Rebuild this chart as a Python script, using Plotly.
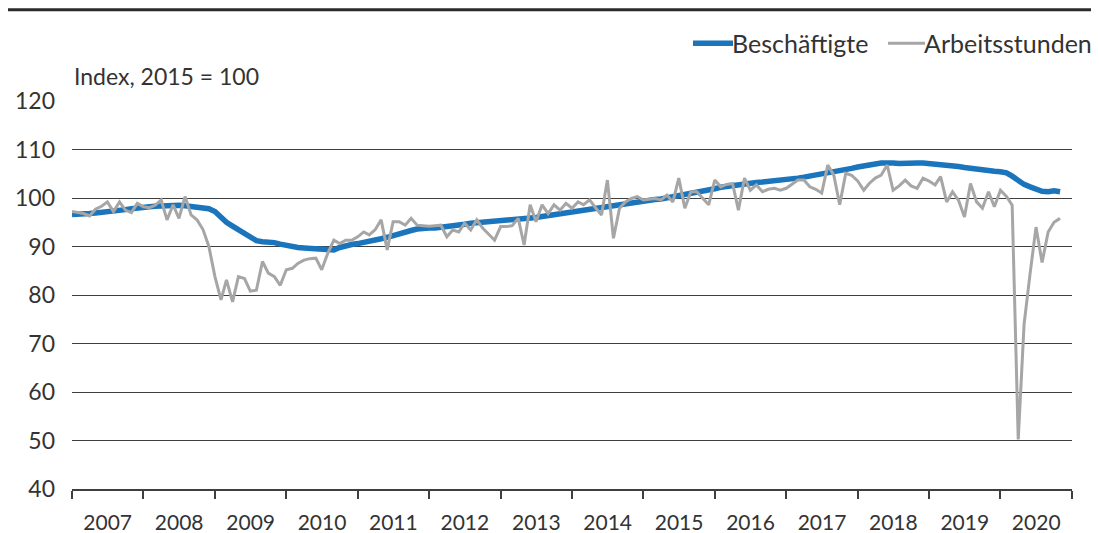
import pandas as pd
import plotly.graph_objects as go

# monthly values, Jan 2007 - Nov 2020 (Index, 2015 = 100)
months = pd.date_range("2007-01-01", "2020-11-01", freq="MS")

beschaeftigte = [
    96.6, 96.6, 96.7, 96.8, 96.9, 97.0, 97.1, 97.2, 97.4, 97.6, 97.8, 98.0,   # 2007
    98.1, 98.2, 98.3, 98.4, 98.4, 98.5, 98.5, 98.4, 98.3, 98.1, 97.9, 97.8,   # 2008
    97.2, 96.0, 95.0, 94.2, 93.5, 92.8, 92.0, 91.2, 91.0, 91.0, 90.8, 90.5,   # 2009
    90.2, 90.0, 89.8, 89.7, 89.6, 89.4, 89.3, 89.2, 89.3, 89.8, 90.2, 90.4,   # 2010
    90.6, 90.8, 91.0, 91.3, 91.6, 91.9, 92.3, 92.7, 93.0, 93.3, 93.6, 93.8,   # 2011
    93.8, 93.8, 93.9, 94.0, 94.2, 94.4, 94.6, 94.8, 94.9, 95.0, 95.1, 95.2,   # 2012
    95.2, 95.3, 95.4, 95.5, 95.7, 95.9, 96.0, 96.2, 96.4, 96.6, 96.8, 97.0,   # 2013
    97.1, 97.3, 97.5, 97.7, 97.9, 98.1, 98.3, 98.5, 98.7, 98.9, 99.1, 99.2,   # 2014
    99.3, 99.5, 99.7, 99.8, 100.0, 100.2, 100.4, 100.6, 100.8, 101.0, 101.3, 101.6,  # 2015
    101.9, 102.2, 102.4, 102.6, 102.8, 103.0, 103.1, 103.2, 103.3, 103.4, 103.5, 103.6,  # 2016
    103.7, 103.9, 104.1, 104.3, 104.5, 104.7, 104.9, 105.1, 105.3, 105.5, 105.8, 106.1,  # 2017
    106.4, 106.7, 106.9, 107.0, 107.2, 107.3, 107.2, 107.1, 107.2, 107.3, 107.2, 107.2,  # 2018
    107.1, 107.0, 107.0, 106.9, 106.7, 106.5, 106.3, 106.1, 105.9, 105.7, 105.6, 105.5,  # 2019
    105.4, 105.2, 104.5, 103.5, 102.8, 102.3, 101.8, 101.4, 101.3, 101.5, 101.3,         # 2020
]

arbeitsstunden = [
    97.2, 97.0, 96.8, 96.3, 97.7, 98.3, 99.2, 97.2, 99.2, 97.5, 97.0, 98.9,   # 2007
    98.2, 98.0, 98.5, 99.6, 95.5, 98.6, 95.8, 100.3, 96.5, 95.5, 93.5, 90.0,  # 2008
    83.8, 79.0, 83.1, 78.6, 83.8, 83.4, 80.8, 81.0, 86.9, 84.5, 83.8, 82.0,   # 2009
    85.2, 85.5, 86.5, 87.2, 87.5, 87.6, 85.2, 88.6, 91.3, 90.6, 91.3, 91.3,   # 2010
    92.0, 93.0, 92.4, 93.5, 95.5, 89.3, 95.1, 95.1, 94.4, 95.8, 94.4, 94.3,   # 2011
    94.2, 94.3, 94.4, 92.0, 93.4, 93.0, 94.8, 93.4, 95.5, 93.8, 92.5, 91.3,   # 2012
    94.1, 94.1, 94.3, 95.8, 90.3, 98.6, 95.1, 98.6, 96.8, 98.6, 97.5, 98.9,   # 2013
    97.9, 99.2, 98.6, 99.6, 98.0, 96.5, 103.7, 91.7, 97.9, 99.2, 99.9, 100.3, # 2014
    99.6, 99.8, 99.9, 99.6, 100.6, 99.2, 104.1, 97.9, 101.3, 101.3, 99.9, 98.6,    # 2015
    103.7, 102.3, 102.8, 103.0, 97.5, 104.1, 101.6, 102.7, 101.3, 101.8, 102.0, 101.6,  # 2016
    102.0, 102.8, 103.7, 103.7, 102.3, 101.8, 101.0, 106.8, 104.7, 98.6, 105.1, 104.7,  # 2017
    103.5, 101.6, 103.0, 104.1, 104.7, 106.8, 101.6, 102.5, 103.7, 102.5, 102.0, 104.1,  # 2018
    103.5, 102.7, 104.4, 99.2, 101.3, 99.5, 96.1, 103.0, 99.2, 97.9, 101.3, 98.2,       # 2019
    101.6, 100.3, 98.5, 50.2, 74.0, 84.5, 94.0, 86.7, 93.0, 95.0, 95.8,                 # 2020
]

y_ticks = [40, 50, 60, 70, 80, 90, 100, 110, 120]

series_names = ["Beschäftigte", "Arbeitsstunden"]
series_colors = ["#1b75bc", "#a6a6a6"]
series_widths = [5.5, 3]

font_family = "Lato, 'Open Sans', sans-serif"
text_color = "#333333"
grid_color = "#3f3f3f"

fig = go.Figure()

for name, vals, color, w in zip(series_names, [beschaeftigte, arbeitsstunden], series_colors, series_widths):
    fig.add_trace(go.Scatter(
        x=months,
        y=vals,
        mode="lines",
        name=name,
        line=dict(color=color, width=w),
        showlegend=False,
    ))

# the page body has an 8px margin, so the figure is a bit smaller than the window
fig.update_layout(
    width=1091,
    height=525,
    margin=dict(l=64, r=27, t=93, b=44),
    plot_bgcolor="white",
    paper_bgcolor="white",
    font=dict(family=font_family, size=21, color=text_color),
    xaxis=dict(
        type="date",
        range=["2007-01-01", "2021-01-01"],
        tick0="2007-01-01",
        dtick="M12",
        tickformat="%Y",
        ticklabelmode="period",
        ticks="outside",
        ticklen=8,
        tickwidth=1.5,
        tickcolor=grid_color,
        showline=True,
        linecolor=grid_color,
        linewidth=1.5,
        showgrid=False,
        ticklabelstandoff=6,
        zeroline=False,
        automargin=False,
        tickfont=dict(size=21),
    ),
    yaxis=dict(
        range=[40, 120],
        tickvals=y_ticks,
        showgrid=True,
        gridcolor=grid_color,
        gridwidth=1.2,
        showline=False,
        zeroline=False,
        ticks="",
        ticklabelstandoff=16,
        automargin=False,
        tickfont=dict(size=23),
    ),
)

# unit label above the plot area
fig.add_annotation(
    text="Index, 2015 = 100",
    xref="paper", yref="paper",
    x=0, y=1.064,
    xanchor="left", yanchor="middle",
    showarrow=False,
    font=dict(size=23, color=text_color),
)

# legend drawn by hand so the line sample touches its label
legend_x = [(0.621, 0.661), (0.816, 0.853)]
legend_y = 1.149
for (x0, x1), name, color, w in zip(legend_x, series_names, series_colors, series_widths):
    fig.add_shape(
        type="line",
        xref="paper", yref="paper",
        x0=x0, x1=x1, y0=legend_y, y1=legend_y,
        line=dict(color=color, width=w),
    )
    fig.add_annotation(
        text=name,
        xref="paper", yref="paper",
        x=x1, y=legend_y,
        xanchor="left", yanchor="middle",
        xshift=-3,
        showarrow=False,
        font=dict(size=25, color=text_color),
    )

# rule at the top of the graphic
fig.add_shape(
    type="line",
    xref="paper", yref="paper",
    x0=-0.08, x1=1.03,
    y0=1.235, y1=1.235,
    line=dict(color="#2b2b2b", width=3),
)

fig.write_html("out.html")
